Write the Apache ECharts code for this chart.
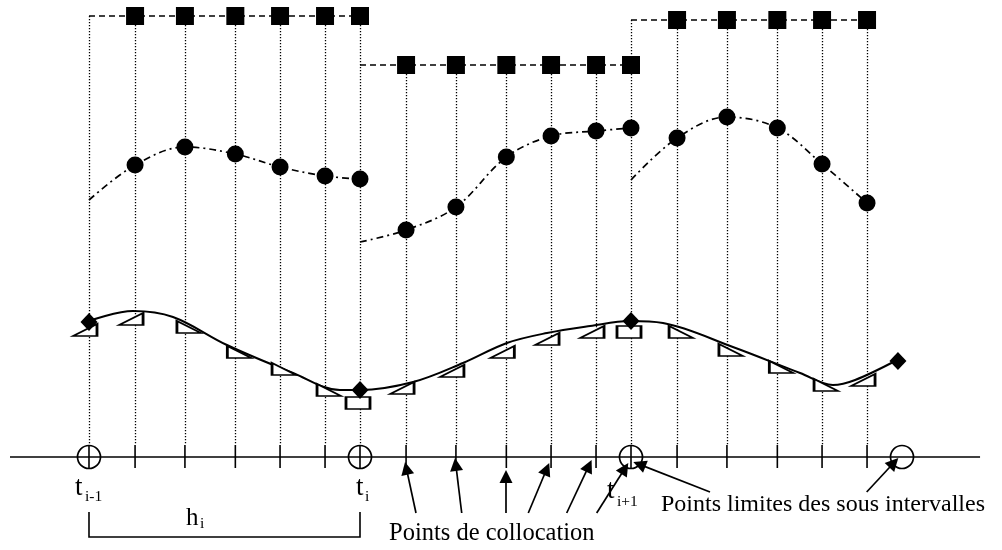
<!DOCTYPE html>
<html><head><meta charset="utf-8">
<script src="https://cdn.jsdelivr.net/npm/echarts@6/dist/echarts.min.js"></script>
<style>html,body{margin:0;padding:0;background:#fff}#c{width:1002px;height:550px}</style>
</head><body><div id="c"></div>
<script>
// Time axis: t_{i-1}=0, t_i=1, t_{i+1}=2, t_{i+2}=3 (each subinterval h = 1)
const nodes = [0, 1, 2, 3];
const collocation = [0.17, 0.354, 0.54, 0.705, 0.871];   // collocation points inside a subinterval
// Upper profile: piecewise-constant control (squares), one level per subinterval
const squareLevels = [441, 392, 437];
// Middle profile: dash-dot trajectory (circles)
const circleStart = [257, 215, 277];
const circleValues = [
  [292, 310, 303, 290, 281, 278],
  [227, 250, 300, 321, 326, 329],
  [319, 340, 329, 293, 254]
];
// Lower profile: continuous state (solid curve)
const curveT = [0, 0.162, 0.31, 0.509, 0.753, 0.926, 1.0, 1.196, 1.38, 1.542, 1.69, 1.849, 1.996, 2.118, 2.376, 2.624, 2.745, 2.827, 2.982];
const curveY = [136, 146, 140, 112, 84, 67, 67, 75, 94, 114, 124, 131, 136, 134, 110, 84, 72, 77, 97];
const diamondT = [0, 1, 2, 2.985];
const diamondY = [135, 67, 136, 96];
// Approximation markers on the lower profile
const nodeMarkerT = [0, 1, 2];
const nodeMarkerY = [125, 54, 125];
const nodeMarkerShape = ['up', 'rect', 'rect'];
const triangleValues = [[136, 128, 103, 86, 65], [67, 84, 103, 116, 123], [123, 105, 88, 70, 75]];
const triangleDir = [['up','down','down','down','down'], ['up','up','up','up','up'], ['down','down','down','down','up']];
// Annotation arrows: [fromT, fromY, tipT, tipY]
const arrows = [
  [1.2066, -56, 1.1661, -5],
  [1.3753, -56, 1.3506, -1],
  [1.5387, -56, 1.5387, -13],
  [1.6210, -56, 1.6982, -6],
  [1.7627, -56, 1.8546, -3],
  [1.8734, -56, 1.9900, -6],
  [2.2915, -35, 2.0085, -5],
  [2.8697, -35, 2.9863, -1]
];
const labels = {
  tPrev: ['t', 'i-1'], tCur: ['t', 'i'], tNext: ['t', 'i+1'], h: ['h', 'i'],
  colloc: 'Points de collocation', limits: 'Points limites des sous intervalles'
};

const X_MIN = -0.3284, X_MAX = 3.369, Y_MIN = -93, Y_MAX = 457;
const W = 1002, H = 550;
const PX_T = W / (X_MAX - X_MIN), PX_Y = H / (Y_MAX - Y_MIN);
const K = '#000';
const serif = '"Liberation Serif", "Times New Roman", serif';

const series = [];
// vertical dotted lines
const vlines = [];
nodes.slice(0, 3).forEach((n, i) => {
  const top = Math.max(squareLevels[Math.max(0, i - 1)], squareLevels[Math.min(2, i)]);
  vlines.push({ coords: [[n, top], [n, 12]] });
});
for (let k = 0; k < 3; k++) collocation.forEach(c => vlines.push({ coords: [[k + c, squareLevels[k]], [k + c, 12]] }));
series.push({ type: 'lines', coordinateSystem: 'cartesian2d', z: 1, silent: true,
  lineStyle: { color: K, width: 1.3, type: [1.3, 1.7], opacity: 1 }, data: vlines });

// axis line, ticks, bracket
const solid = [{ coords: [[-0.2915, 0], [3.288, 0]] }];
nodes.slice(0, 3).forEach(n => solid.push({ coords: [[n, 12], [n, -11]] }));
for (let k = 0; k < 3; k++) collocation.forEach(c => solid.push({ coords: [[k + c, 12], [k + c, -11]] }));
solid.push({ coords: [[0, -55], [0, -80], [1, -80], [1, -55]] });
series.push({ type: 'lines', coordinateSystem: 'cartesian2d', polyline: true, z: 2, silent: true,
  lineStyle: { color: K, width: 1.6, opacity: 1 }, data: solid });

// node circles on axis
series.push({ type: 'scatter', z: 3, symbol: 'circle', symbolSize: 23,
  itemStyle: { color: 'rgba(0,0,0,0)', borderColor: K, borderWidth: 1.7, opacity: 1 },
  data: nodes.map(n => [n, 0]) });

// arrows (end shifted so that the arrow tip sits at the given point)
const HEAD = 13;
series.push({ type: 'lines', coordinateSystem: 'cartesian2d', z: 4, silent: true,
  symbol: ['none', 'triangle'], symbolSize: [0, HEAD],
  lineStyle: { color: K, width: 1.7, opacity: 1 }, itemStyle: { color: K, opacity: 1 },
  data: arrows.map(a => {
    const dx = (a[2] - a[0]) * PX_T, dy = (a[3] - a[1]) * PX_Y, L = Math.hypot(dx, dy);
    const s = HEAD / 2 / L;
    return { coords: [[a[0], a[1]], [a[2] - (a[2] - a[0]) * s, a[3] - (a[3] - a[1]) * s]] };
  }) });

// squares (dashed)
for (let k = 0; k < 3; k++) {
  const d = [{ value: [k, squareLevels[k]], symbol: 'none' }];
  collocation.forEach(c => d.push([k + c, squareLevels[k]]));
  if (circleValues[k].length === 6) d.push([k + 1, squareLevels[k]]);
  series.push({ type: 'line', z: 5, data: d, symbol: 'rect', symbolSize: 18, showAllSymbol: true,
    itemStyle: { color: K, opacity: 1 }, lineStyle: { color: K, width: 1.7, type: [6, 4] } });
}
// circles (dash-dot)
for (let k = 0; k < 3; k++) {
  const d = [{ value: [k, circleStart[k]], symbol: 'none' }];
  circleValues[k].forEach((v, j) => d.push([j < 5 ? k + collocation[j] : k + 1, v]));
  series.push({ type: 'line', z: 5, data: d, smooth: 0.35, symbol: 'circle', symbolSize: 17, showAllSymbol: true,
    itemStyle: { color: K, opacity: 1 }, lineStyle: { color: K, width: 1.7, type: [7, 4, 2, 4] } });
}
// solid curve
series.push({ type: 'line', z: 5, smooth: 0.35, symbol: 'none',
  lineStyle: { color: K, width: 2 }, data: curveT.map((t, i) => [t, curveY[i]]) });
// triangles / rects
const up = [], down = [], rects = [];
nodeMarkerT.forEach((t, i) => {
  const p = [t, nodeMarkerY[i]];
  (nodeMarkerShape[i] === 'up' ? up : nodeMarkerShape[i] === 'down' ? down : rects).push(p);
});
for (let k = 0; k < 3; k++) collocation.forEach((c, j) => (triangleDir[k][j] === 'up' ? up : down).push([k + c, triangleValues[k][j]]));
const openStyle = { color: '#fff', borderColor: K, borderWidth: 2, opacity: 1 };
series.push({ type: 'scatter', z: 6, data: up, symbol: 'path://M0,12 L24,12 L24,0 Z', symbolSize: [24, 12], symbolOffset: [-4, -2], itemStyle: openStyle });
series.push({ type: 'scatter', z: 6, data: down, symbol: 'path://M0,0 L0,12 L24,12 Z', symbolSize: [24, 12], symbolOffset: [4, -2], itemStyle: openStyle });
series.push({ type: 'scatter', z: 6, data: rects, symbol: 'rect', symbolSize: [24, 12], symbolOffset: [-2, 0], itemStyle: openStyle });
// diamonds
series.push({ type: 'scatter', z: 7, data: diamondT.map((t, i) => [t, diamondY[i]]), symbol: 'diamond', symbolSize: [17, 18], itemStyle: { color: K, opacity: 1 } });

function txt(s, x, yBase, size) {
  return { type: 'text', x: x, y: yBase - size * 0.33, silent: true,
    style: { text: s, font: size + 'px ' + serif, fill: K, align: 'left', verticalAlign: 'middle', textAlign: 'left', textVerticalAlign: 'middle' } };
}
const graphic = [
  txt(labels.tPrev[0], 75, 497, 27), txt(labels.tPrev[1], 85, 502, 15.5),
  txt(labels.tCur[0], 356, 497, 27), txt(labels.tCur[1], 365, 502, 15.5),
  txt(labels.tNext[0], 607, 500, 27), txt(labels.tNext[1], 617, 507, 15.5),
  txt(labels.h[0], 186, 527, 25), txt(labels.h[1], 200, 529, 15.5),
  txt(labels.colloc, 389, 542, 24.5),
  txt(labels.limits, 661, 512.5, 24)
];

const chart = echarts.init(document.getElementById('c'), null, { renderer: 'canvas' });
chart.setOption({
  animation: false,
  backgroundColor: '#fff',
  grid: { left: 0, right: 0, top: 0, bottom: 0 },
  xAxis: { type: 'value', min: X_MIN, max: X_MAX, show: false },
  yAxis: { type: 'value', min: Y_MIN, max: Y_MAX, show: false },
  graphic: graphic,
  series: series
});
</script></body></html>
